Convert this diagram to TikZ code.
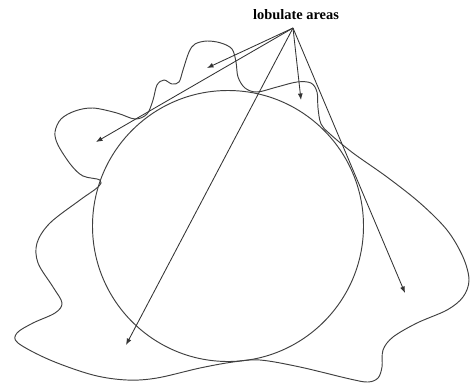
\documentclass[tikz,border=0pt]{standalone}
\usepackage{fontspec}
\setmainfont{Liberation Serif}
\usetikzlibrary{arrows.meta}
\begin{document}
\begin{tikzpicture}[x=1pt,y=-1pt,
  outl/.style={draw=black!75,line width=0.95pt},
  ptr/.style={draw=black!80,line width=0.85pt,-{Latex[length=6.5pt,width=5pt]}}]
\useasboundingbox (0,0) rectangle (471,389);
\node[font=\bfseries\fontsize{14.4}{16}\selectfont,anchor=base,inner sep=0pt] (lbl) at (296,19) {lobulate areas};
\coordinate (apex) at (293,28);
\coordinate (e1) at (207,68);
\coordinate (e2) at (96,142);
\coordinate (e3) at (301,100);
\coordinate (e4) at (126,345);
\coordinate (e5) at (405,293);
\node[outl,circle,minimum size=271pt,inner sep=0pt] (circ) at (228,226) {};
\draw[outl] plot[smooth cycle,tension=0.55] coordinates {
(100,180) (83,176) (71,165) (58,145) (55,132) (61,119) (75,111) (93,108)
(117,113) (135,119) (147,114) (153,100) (157,85) (164,80) (172,84) (179,82)
(183,70) (189,52) (195,44) (207,41) (221,43) (232,49) (236,62) (238,77)
(245,88) (257,92) (277,87) (297,82) (311,83) (317,92) (318,108) (321,124)
(330,134) (353,153) (387,177) (420,203) (447,230) (463,257) (469,280)
(463,297) (447,310) (417,323) (393,337) (383,350) (382,367) (378,378)
(368,382) (350,379) (300,367) (260,360) (233,362) (200,368) (157,378)
(127,380) (93,375) (50,360) (18,343) (17,333) (33,323) (55,313) (62,303)
(53,287) (38,263) (37,243) (50,223) (80,200) (98,187)};
\foreach \e in {e1,e2,e3,e4,e5} \draw[ptr] (apex) -- (\e);
\end{tikzpicture}
\end{document}
